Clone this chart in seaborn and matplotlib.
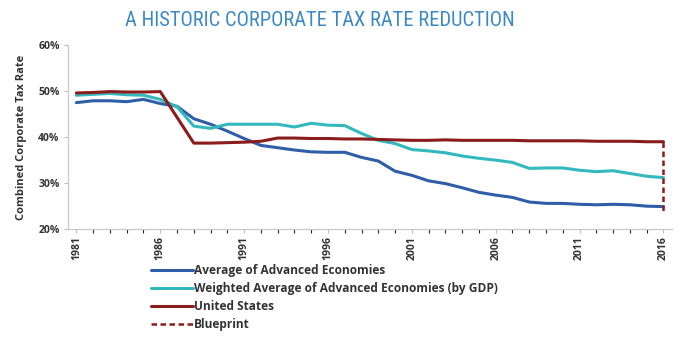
import matplotlib
matplotlib.use("Agg")
import matplotlib.pyplot as plt
import matplotlib.ticker as mticker
from matplotlib.lines import Line2D
from matplotlib import font_manager
import numpy as np
import pandas as pd
import seaborn as sns

years = list(range(1981, 2017))

avg_advanced = [47.5, 47.9, 47.9, 47.7, 48.2, 47.3, 46.7, 44.0, 42.8, 41.3,
                39.7, 38.2, 37.7, 37.2, 36.8, 36.7, 36.7, 35.6, 34.8, 32.6,
                31.7, 30.5, 29.9, 29.0, 28.0, 27.4, 26.9, 25.9, 25.6, 25.6,
                25.4, 25.3, 25.4, 25.3, 25.0, 24.9]

weighted_advanced = [49.1, 49.3, 49.5, 49.2, 49.1, 48.2, 46.6, 42.4, 41.9, 42.8,
                     42.8, 42.8, 42.8, 42.2, 43.0, 42.6, 42.5, 40.8, 39.3, 38.6,
                     37.3, 37.0, 36.6, 35.9, 35.4, 35.0, 34.5, 33.2, 33.3, 33.3,
                     32.8, 32.5, 32.7, 32.1, 31.5, 31.2]

united_states = [49.6, 49.7, 49.9, 49.8, 49.8, 49.9, 44.3, 38.7, 38.7, 38.8,
                 38.9, 39.1, 39.8, 39.8, 39.7, 39.7, 39.6, 39.6, 39.5, 39.4,
                 39.3, 39.3, 39.4, 39.3, 39.3, 39.3, 39.3, 39.2, 39.2, 39.2,
                 39.2, 39.1, 39.1, 39.1, 39.0, 39.0]

blueprint_years = [2016, 2016]
blueprint_rate = [39.0, 23.9]

series_names = ["Average of Advanced Economies",
                "Weighted Average of Advanced Economies (by GDP)",
                "United States"]
series_colors = ["#2f5ea8", "#33b9bd", "#8c1c1c"]
blueprint_name = "Blueprint"

df = pd.DataFrame({
    "Year": years * 3,
    "Rate": avg_advanced + weighted_advanced + united_states,
    "Series": sum([[n] * len(years) for n in series_names], []),
})
bp = pd.DataFrame({"Year": blueprint_years, "Rate": blueprint_rate,
                   "Series": [blueprint_name] * 2})

sns.set_theme(style="white")
plt.rcParams["font.family"] = ["Open Sans", "DejaVu Sans"]

fig = plt.figure(figsize=(6.8, 3.39), dpi=100)
ax = fig.add_axes([0.1, 0.324, 0.888, 0.543])

sns.lineplot(data=df, x="Year", y="Rate", hue="Series", hue_order=series_names,
             palette=series_colors, linewidth=2.2, ax=ax, legend=False)
sns.lineplot(data=bp, x="Year", y="Rate", color="#8c1c1c", linewidth=1.8,
             linestyle=(0, (2.2, 1.4)), ax=ax, legend=False, sort=False,
             estimator=None)

ax.set_xlim(1980.5, 2016.5)
ax.set_ylim(20, 60)
ax.set_xticks(list(range(1981, 2017, 5)))
ax.xaxis.set_minor_locator(mticker.MultipleLocator(1))
ax.set_yticks([20, 30, 40, 50, 60])
ax.yaxis.set_major_formatter(mticker.FuncFormatter(lambda v, p: f"{v:.0f}%"))

for lab in ax.get_xticklabels():
    lab.set_rotation(90)
    lab.set_fontweight("bold")
for lab in ax.get_yticklabels():
    lab.set_fontweight("bold")
ax.tick_params(axis="both", labelsize=7.5, colors="#bbbbbb", labelcolor="#333333")
ax.tick_params(axis="x", which="both", bottom=True, direction="out", length=3,
               width=0.8, pad=2)
ax.tick_params(axis="y", left=True, direction="out", length=3, width=0.8, pad=3)

for side in ["top", "right"]:
    ax.spines[side].set_visible(False)
for side in ["left", "bottom"]:
    ax.spines[side].set_color("#c8c8c8")
    ax.spines[side].set_linewidth(0.9)

ax.set_xlabel("")
ax.set_ylabel("Combined Corporate Tax Rate", fontsize=8, fontweight="bold",
              color="#333333", labelpad=8)

# Condensed face for the heading when one is available
title_family = ["DejaVu Sans"]
names = {f.name for f in font_manager.fontManager.ttflist}
for cand in ["Liberation Sans Narrow", "DejaVu Sans Condensed", "Roboto Condensed",
             "Open Sans Condensed"]:
    if cand in names:
        title_family = [cand, "DejaVu Sans"]
        break
fig.text(0.471, 0.94, "A HISTORIC CORPORATE TAX RATE REDUCTION",
         ha="center", va="center", fontsize=14.8, color="#3a89c6",
         family=title_family, fontstretch="condensed", fontweight="normal")

handles = [Line2D([], [], color=c, linewidth=2.2) for c in series_colors]
handles.append(Line2D([], [], color="#8c1c1c", linewidth=1.8,
                      linestyle=(0, (2.2, 1.4))))
fig.legend(handles, series_names + [blueprint_name], loc="upper left",
           bbox_to_anchor=(0.222, 0.222), frameon=False,
           prop={"size": 8.6, "weight": "bold"}, labelcolor="#333333",
           handlelength=3.5, handletextpad=0.1, labelspacing=0.42,
           borderaxespad=0, borderpad=0)

fig.savefig("out.png", dpi=100)
